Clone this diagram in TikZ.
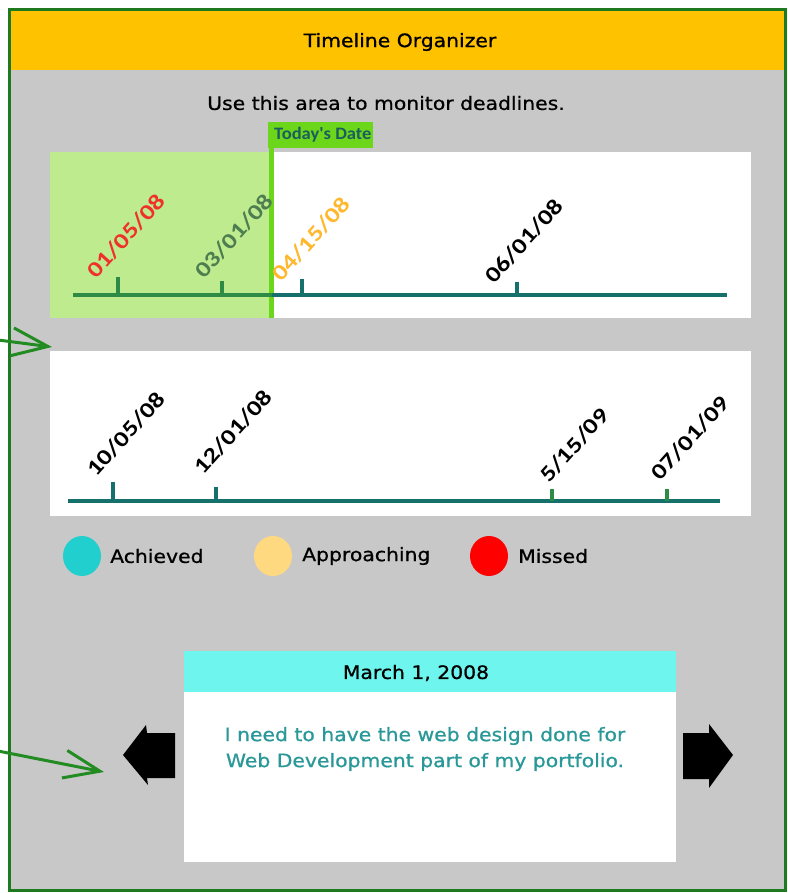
\documentclass[tikz,border=0pt]{standalone}
\usepackage{fontspec}
\setmainfont{DejaVu Sans}
\newfontfamily\uifont{DejaVu Sans}[FakeBold=0.8]
\newfontfamily\datefont{Carlito}
\usetikzlibrary{arrows.meta,shapes.geometric}
\definecolor{bggray}{HTML}{C8C8C8}
\definecolor{hdryellow}{HTML}{FFC200}
\definecolor{framegreen}{HTML}{1E7A1E}
\definecolor{pastgreen}{HTML}{BDEB8E}
\definecolor{todaygreen}{HTML}{6CD61A}
\definecolor{pastline}{HTML}{2E8B45}
\definecolor{tealline}{HTML}{16706C}
\definecolor{missred}{HTML}{F0302A}
\definecolor{doneolive}{HTML}{4E7D50}
\definecolor{apporange}{HTML}{FFB82E}
\definecolor{achcyan}{HTML}{22CFCF}
\definecolor{appyellow}{HTML}{FFD97F}
\definecolor{cardcyan}{HTML}{6EF5EE}
\definecolor{cardtext}{HTML}{2A9898}
\definecolor{calloutgreen}{HTML}{228B22}
\definecolor{labelteal}{HTML}{1A5E5E}
\tikzset{
  uitext/.style={font=\uifont\fontsize{18.5}{21}\selectfont, inner sep=0pt, xscale=1.1},
  datelabel/.style={font=\datefont\bfseries\fontsize{22}{24}\selectfont, rotate=48, anchor=base west, inner sep=0pt},
  tlline/.style={line width=4pt},
  tick/.style={line width=4pt},
  callout/.style={draw=calloutgreen, line width=3pt, -{Straight Barb[length=36pt, width=28pt, line width=3pt]}},
  navarrow/.style={fill=black},
  dot/.style={ellipse, minimum width=38pt, minimum height=40pt, inner sep=0pt}
}
\newcommand{\dl}[1]{\scalebox{1.22}[1]{#1}}
\begin{document}
\begin{tikzpicture}[x=1pt,y=-1pt]
\useasboundingbox (0,0) rectangle (787,893);
\fill[white] (0,0) rectangle (787,893);
% main frame
\fill[bggray] (9,10) rectangle (785,890);
\fill[hdryellow] (9,10) rectangle (785,70);
\draw[framegreen, line width=3pt] (9,10) rectangle (785,890);
\node[uitext] (title) at (400,42) {Timeline Organizer};
\node[uitext] (hint) at (386,103) {Use this area to monitor deadlines.};
% top panel
\fill[white] (50,152) rectangle (751,318);
\fill[pastgreen] (50,152) rectangle (271,318);
\fill[todaygreen] (268,122) rectangle (373,148);
\node[anchor=west, inner sep=0pt, text=labelteal, font=\datefont\bfseries\fontsize{17.5}{20}\selectfont] (today) at (274,135) {\scalebox{1.06}[1]{Today's Date}};
\draw[todaygreen, line width=5pt] (271,122) coordinate (tl) -- (271,318) coordinate (tb);
% timeline 1
\coordinate (t1a) at (73,295);
\coordinate (t1m) at (272,295);
\coordinate (t1b) at (727,295);
\draw[pastline, tlline] (t1a) -- (t1m);
\draw[tealline, tlline] (t1m) -- (t1b);
\draw[pastline, tick] (118,295) -- (118,277);
\draw[pastline, tick] (222,295) -- (222,281);
\draw[tealline, tick] (302,295) -- (302,279);
\draw[tealline, tick] (517,295) -- (517,282);
\node[datelabel, text=missred] (d1) at (96,280) {\dl{01/05/08}};
\node[datelabel, text=doneolive] (d2) at (204,280) {\dl{03/01/08}};
\node[datelabel, text=apporange] (d3) at (281,283) {\dl{04/15/08}};
\node[datelabel, text=black] (d4) at (494,285) {\dl{06/01/08}};
% bottom panel
\fill[white] (50,351) rectangle (751,516);
\coordinate (t2a) at (68,501);
\coordinate (t2b) at (720,501);
\draw[tealline, tlline] (t2a) -- (t2b);
\draw[tealline, tick] (113,501) -- (113,482);
\draw[tealline, tick] (216,501) -- (216,487);
\draw[pastline, tick] (552,501) -- (552,489);
\draw[pastline, tick] (667,501) -- (667,489);
\node[datelabel, text=black] (d5) at (96,478) {\dl{10/05/08}};
\node[datelabel, text=black] (d6) at (203,476) {\dl{12/01/08}};
\node[datelabel, text=black] (d7) at (549,484) {\dl{5/15/09}};
\node[datelabel, text=black] (d8) at (660,482) {\dl{07/01/09}};
% legend
\node[dot, fill=achcyan] (c1) at (82,556) {};
\node[uitext, anchor=west] (l1) at (110,556) {Achieved};
\node[dot, fill=appyellow] (c2) at (273,556) {};
\node[uitext, anchor=west] (l2) at (302,556) {Approaching};
\node[dot, fill=red] (c3) at (489,556) {};
\node[uitext, anchor=west] (l3) at (518,556) {Missed};
% card
\fill[cardcyan] (184,651) rectangle (676,692);
\fill[white] (184,692) rectangle (676,862);
\node[uitext] (date) at (416,673) {March 1, 2008};
\node[uitext, text=cardtext, align=center, font=\uifont\fontsize{18.5}{26}\selectfont] (note) at (425,749)
  {I need to have the web design done for\\Web Development part of my portfolio.};
% nav arrows
\fill[navarrow] (175,733) -- (147,733) -- (146,725) -- (123,755) -- (148,785) -- (147,778) -- (175,778) -- cycle;
\fill[navarrow] (683,733) -- (709,733) -- (709,724) -- (733,755) -- (709,788) -- (709,779) -- (683,779) -- cycle;
% callouts
\coordinate (a1s) at (-2,340);
\coordinate (a1e) at (52,347);
\coordinate (a2s) at (-2,751);
\coordinate (a2e) at (104,772);
\draw[callout] (a1s) -- (a1e);
\draw[callout] (a2s) -- (a2e);
\end{tikzpicture}
\end{document}
